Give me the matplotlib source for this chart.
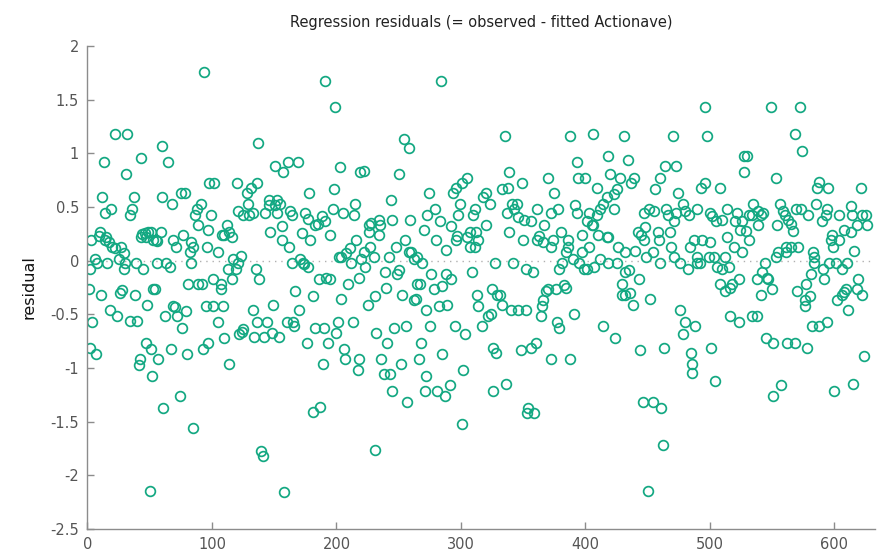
import matplotlib
matplotlib.use("Agg")
import matplotlib.pyplot as plt

# observation index and residual (observed - fitted)
obs = [
    22, 32, 13, 43, 31, 12, 37, 19, 14, 36, 34, 10, 9, 3, 15, 14, 17, 20, 22, 27,
    29, 25, 6, 8, 2, 16, 30, 29, 39, 45, 44, 46, 49, 43, 47, 53, 1, 11, 26, 28,
    38, 48, 53, 18, 24, 4, 34, 40, 2, 7, 47, 51, 42, 41, 52, 50,
    94, 60, 65, 98, 102, 60, 68, 75, 78, 91, 88, 86, 99, 89, 97, 51, 59, 55, 56, 69,
    71, 77, 83, 85, 82, 96, 56, 63, 66, 83, 54, 81, 89, 92, 101, 69, 70, 62, 72, 79,
    76, 95, 101, 67, 57, 80, 93, 97, 74, 61, 85,
    137, 151, 157, 120, 136, 131, 128, 129, 121, 125, 130, 133, 143, 146, 152, 146,
    151, 155, 152, 112, 108, 110, 114, 116, 147, 156, 156, 105, 117, 123, 121, 119,
    113, 116, 135, 138, 107, 107, 109, 105, 133, 136, 144, 149, 148, 154, 142, 134,
    125, 122, 124, 110, 114, 139, 141,
    191, 199, 161, 169, 203, 178, 198, 163, 164, 175, 177, 183, 185, 188, 191, 197,
    205, 172, 179, 195, 162, 164, 171, 173, 174, 177, 202, 204, 208, 186, 192, 195,
    167, 181, 209, 204, 170, 160, 165, 166, 183, 190, 201, 200, 176, 193, 206, 207,
    189, 181, 187, 158,
    254, 258, 219, 222, 250, 215, 214, 244, 245, 259, 226, 228, 234, 235, 234, 226,
    216, 211, 227, 222, 220, 223, 230, 212, 248, 242, 255, 258, 260, 262, 250, 249,
    239, 218, 240, 231, 225, 253, 262, 264, 265, 213, 232, 241, 246, 256, 218, 217,
    236, 252, 238, 243, 245, 257, 231,
    284, 305, 301, 296, 294, 274, 299, 279, 273, 283, 298, 311, 310, 292, 270, 280,
    288, 297, 296, 305, 307, 312, 307, 311, 314, 265, 269, 276, 288, 292, 309, 267,
    285, 278, 272, 282, 289, 313, 314, 275, 295, 303, 268, 266, 285, 302, 272, 271,
    281, 287, 291, 301,
    335, 339, 349, 333, 338, 320, 318, 323, 341, 345, 337, 343, 346, 351, 356, 361,
    320, 339, 350, 367, 363, 361, 366, 327, 342, 352, 358, 325, 329, 331, 333, 340,
    346, 352, 368, 366, 365, 364, 322, 324, 317, 326, 328, 348, 356, 360, 326, 336,
    354, 353, 359,
    388, 406, 393, 418, 420, 370, 394, 400, 409, 375, 392, 393, 378, 372, 403, 409,
    412, 414, 417, 401, 405, 406, 380, 374, 372, 386, 386, 384, 397, 410, 417, 418,
    403, 397, 390, 381, 379, 395, 399, 401, 407, 412, 418, 370, 376, 383, 384, 391,
    377, 379, 414, 372, 388,
    431, 470, 434, 464, 473, 428, 439, 437, 460, 456, 425, 423, 474, 423, 447, 451,
    455, 465, 466, 473, 471, 442, 448, 445, 447, 458, 459, 468, 469, 426, 432, 440,
    449, 454, 460, 471, 425, 432, 435, 443, 429, 429, 432, 436, 438, 452, 424, 444,
    463, 446, 454, 461, 462, 450,
    496, 498, 527, 530, 527, 493, 496, 508, 478, 480, 483, 490, 500, 502, 505, 510,
    514, 522, 520, 526, 524, 487, 484, 494, 500, 514, 519, 526, 490, 499, 503, 490,
    492, 476, 482, 506, 510, 515, 512, 523, 508, 512, 516, 518, 476, 480, 478, 488,
    516, 523, 485, 501, 486, 486, 504,
    549, 572, 568, 574, 553, 535, 556, 539, 531, 534, 541, 543, 539, 559, 560, 563,
    565, 567, 554, 569, 573, 579, 529, 531, 553, 555, 561, 561, 565, 571, 544, 542,
    538, 546, 547, 550, 541, 570, 577, 576, 576, 580, 581, 534, 538, 545, 551, 562,
    568, 578, 551, 557,
    588, 586, 595, 621, 585, 594, 593, 590, 604, 613, 614, 622, 625, 626, 618, 613,
    608, 598, 597, 604, 599, 583, 584, 616, 584, 596, 601, 606, 610, 591, 592, 619,
    618, 622, 609, 608, 606, 602, 611, 582, 588, 594, 624, 600, 615,
]

resid = [
    1.18, 1.18, 0.92, 0.96, 0.81, 0.59, 0.59, 0.48, 0.44, 0.48, 0.43, 0.27, 0.23, 0.19, 0.22, 0.19, 0.17, 0.13, 0.12, 0.13,
    0.07, 0.02, 0.02, -0.02, -0.08, -0.02, -0.02, -0.08, -0.02, -0.08, 0.25, 0.26, 0.27, 0.22, 0.22, 0.19, -0.26, -0.32, -0.30, -0.27,
    -0.32, -0.41, -0.26, -0.46, -0.52, -0.57, -0.56, -0.56, -0.81, -0.87, -0.77, -0.82, -0.92, -0.97, -1.07, -2.15,
    1.76, 1.07, 0.92, 0.72, 0.72, 0.59, 0.53, 0.63, 0.63, 0.53, 0.48, 0.43, 0.43, 0.33, 0.29, 0.27, 0.27, 0.19, 0.18, 0.19,
    0.13, 0.24, 0.17, 0.13, 0.08, 0.13, -0.02, -0.02, -0.06, -0.02, -0.26, -0.22, -0.22, -0.22, -0.17, -0.42, -0.43, -0.52, -0.52, -0.47,
    -0.63, -0.42, -0.42, -0.82, -0.92, -0.87, -0.82, -0.77, -1.26, -1.37, -1.56,
    1.10, 0.88, 0.83, 0.72, 0.72, 0.68, 0.63, 0.53, 0.46, 0.43, 0.43, 0.44, 0.44, 0.57, 0.57, 0.52,
    0.52, 0.53, 0.44, 0.33, 0.24, 0.24, 0.27, 0.22, 0.27, 0.32, 0.19, 0.08, 0.02, 0.04, -0.02, -0.08,
    -0.08, -0.17, -0.08, -0.17, -0.22, -0.26, -0.42, -0.57, -0.46, -0.57, -0.57, -0.41, -0.67, -0.71, -0.71, -0.71,
    -0.64, -0.68, -0.66, -0.72, -0.96, -1.77, -1.82,
    1.67, 1.43, 0.92, 0.92, 0.87, 0.63, 0.67, 0.46, 0.43, 0.44, 0.39, 0.33, 0.34, 0.42, 0.37, 0.48,
    0.44, 0.26, 0.19, 0.24, 0.13, -0.02, 0.02, -0.02, -0.03, -0.06, 0.03, 0.03, 0.07, -0.17, -0.16, -0.17,
    -0.28, -0.33, -0.22, -0.36, -0.46, -0.57, -0.57, -0.61, -0.63, -0.63, -0.57, -0.67, -0.77, -0.77, -0.82, -0.92,
    -0.96, -1.41, -1.36, -2.16,
    1.13, 1.05, 0.83, 0.84, 0.81, 0.53, 0.43, 0.57, 0.38, 0.38, 0.33, 0.35, 0.38, 0.33, 0.24, 0.27,
    0.19, 0.12, 0.13, 0.08, 0.02, -0.06, 0.03, -0.02, 0.13, 0.03, 0.19, 0.08, 0.08, 0.02, -0.09, -0.12,
    -0.11, -0.16, -0.25, -0.33, -0.41, -0.32, -0.37, -0.36, -0.22, -0.57, -0.67, -0.77, -0.63, -0.61, -0.92, -1.02,
    -0.92, -0.96, -1.06, -1.06, -1.21, -1.32, -1.76,
    1.67, 0.77, 0.72, 0.68, 0.63, 0.63, 0.53, 0.48, 0.43, 0.37, 0.43, 0.48, 0.43, 0.32, 0.29, 0.19,
    0.10, 0.23, 0.19, 0.22, 0.27, 0.27, 0.13, 0.13, 0.19, 0.03, -0.02, -0.12, -0.12, -0.17, -0.11, -0.22,
    -0.24, -0.26, -0.46, -0.42, -0.41, -0.32, -0.42, -0.61, -0.61, -0.68, -0.77, -0.92, -0.87, -1.02, -1.07, -1.21,
    -1.21, -1.26, -1.16, -1.52,
    1.16, 0.83, 0.72, 0.67, 0.68, 0.63, 0.59, 0.53, 0.53, 0.53, 0.44, 0.48, 0.41, 0.38, 0.37, 0.48,
    0.33, 0.27, 0.19, 0.33, 0.23, 0.19, 0.17, -0.02, -0.02, -0.08, -0.11, -0.26, -0.32, -0.32, -0.41, -0.46,
    -0.46, -0.46, -0.28, -0.37, -0.42, -0.52, -0.52, -0.50, -0.61, -0.81, -0.86, -0.83, -0.81, -0.77, -1.21, -1.15,
    -1.37, -1.42, -1.42,
    1.16, 1.18, 0.92, 0.98, 0.81, 0.77, 0.77, 0.77, 0.68, 0.63, 0.52, 0.44, 0.48, 0.44, 0.44, 0.43,
    0.48, 0.53, 0.59, 0.37, 0.33, 0.33, 0.27, 0.19, 0.13, 0.19, 0.13, 0.08, 0.24, 0.24, 0.22, 0.22,
    0.13, 0.08, 0.02, -0.02, -0.08, -0.02, -0.08, -0.08, -0.06, 0.02, -0.02, -0.26, -0.26, -0.23, -0.25, -0.50,
    -0.57, -0.63, -0.61, -0.92, -0.92,
    1.16, 1.16, 0.94, 0.88, 0.88, 0.77, 0.77, 0.72, 0.77, 0.67, 0.67, 0.62, 0.63, 0.48, 0.44, 0.48,
    0.46, 0.48, 0.43, 0.44, 0.37, 0.27, 0.31, 0.24, 0.19, 0.27, 0.19, 0.27, 0.13, 0.13, 0.08, 0.09,
    0.03, 0.08, -0.02, 0.03, -0.02, -0.11, -0.09, -0.17, -0.22, -0.32, -0.32, -0.30, -0.41, -0.36, -0.72, -0.83,
    -0.81, -1.32, -1.32, -1.37, -1.72, -2.15,
    1.43, 1.16, 0.98, 0.98, 0.83, 0.68, 0.72, 0.68, 0.53, 0.46, 0.43, 0.48, 0.44, 0.42, 0.37, 0.38,
    0.48, 0.44, 0.37, 0.37, 0.29, 0.19, 0.13, 0.19, 0.17, 0.22, 0.13, 0.08, 0.03, 0.03, 0.03, -0.02,
    -0.02, -0.02, -0.08, -0.06, -0.08, -0.06, 0.03, -0.17, -0.22, -0.28, -0.25, -0.22, -0.46, -0.57, -0.68, -0.61,
    -0.52, -0.57, -0.86, -0.81, -0.96, -1.05, -1.12,
    1.43, 1.43, 1.18, 1.02, 0.77, 0.53, 0.53, 0.46, 0.43, 0.43, 0.43, 0.44, 0.33, 0.46, 0.43, 0.38,
    0.34, 0.28, 0.33, 0.48, 0.48, 0.43, 0.28, 0.19, 0.03, 0.08, 0.08, 0.13, 0.13, 0.13, -0.02, -0.11,
    -0.17, -0.16, -0.17, -0.26, -0.32, -0.28, -0.22, -0.37, -0.42, -0.33, -0.12, -0.52, -0.52, -0.72, -0.77, -0.77,
    -0.77, -0.81, -1.26, -1.16,
    0.73, 0.68, 0.68, 0.68, 0.53, 0.48, 0.43, 0.37, 0.43, 0.51, 0.43, 0.43, 0.43, 0.33, 0.33, 0.27,
    0.29, 0.24, 0.19, 0.19, 0.13, 0.08, 0.03, 0.09, -0.02, -0.02, -0.02, -0.08, -0.02, -0.08, -0.17, -0.17,
    -0.26, -0.32, -0.26, -0.29, -0.32, -0.37, -0.46, -0.61, -0.61, -0.57, -0.89, -1.21, -1.15,
]

x_max = 633
y_ticks = [-2.5, -2, -1.5, -1, -0.5, 0, 0.5, 1, 1.5, 2]
x_ticks = [0, 100, 200, 300, 400, 500, 600]

title = "Regression residuals (= observed - fitted Actionave)"
point_color = "#13a882"
axis_color = "#8c8c8c"
tick_text_color = "#555555"

plt.rcParams["font.family"] = ["DejaVu Sans"]

fig = plt.figure(figsize=(8.79, 5.58), dpi=100)
ax = fig.add_axes([0.0995, 0.052, 0.8965, 0.8655])

ax.axhline(0, color="#b0b0b0", lw=1.0, ls=(0, (1, 3.5)), zorder=1)
ax.plot(obs, resid, ls="none", marker="o", ms=7, mfc="none",
        mec=point_color, mew=1.25, zorder=2)

ax.set_xlim(0, x_max)
ax.set_ylim(-2.5, 2)
ax.set_xticks(x_ticks)
ax.set_yticks(y_ticks)
ax.set_yticklabels([f"{v:g}" for v in y_ticks])

for side in ("top", "right"):
    ax.spines[side].set_visible(False)
for side in ("left", "bottom"):
    ax.spines[side].set_color(axis_color)
    ax.spines[side].set_linewidth(1.0)

ax.tick_params(direction="in", length=5, width=1, color=axis_color,
               labelcolor=tick_text_color, labelsize=10.5, pad=6)

ax.set_ylabel("residual", fontsize=11.5, labelpad=10, color="#111111")
ax.set_title(title, fontsize=10.5, pad=14, color="#222222")

fig.savefig("out.png", dpi=100)
